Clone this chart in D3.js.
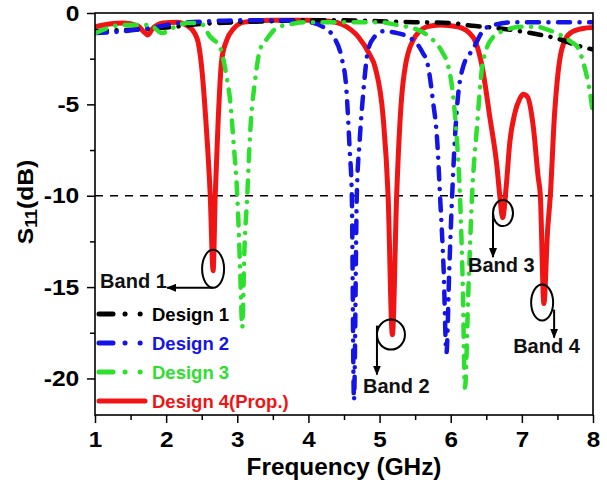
<!DOCTYPE html>
<html><head><meta charset="utf-8">
<script src="https://cdn.jsdelivr.net/npm/d3@7"></script>
<style>
body{margin:0;background:#fff}
text{font-family:"Liberation Sans",Arial,sans-serif;font-weight:bold}
</style>
</head><body>
<svg id="c" width="607" height="483"></svg>
<script>
// ---------- data ----------
const freq1 = [1.0,1.3,1.6,2.0,2.5,3.0,3.5,4.0,4.5,5.0,5.5,6.0,6.3,6.6,6.9,7.2,7.5,7.8,8.0];
const s11_1 = [-1.0,-0.95,-0.9,-0.8,-0.6,-0.5,-0.45,-0.4,-0.4,-0.45,-0.5,-0.55,-0.7,-0.8,-0.95,-1.15,-1.4,-1.8,-2.0];

const freq2 = [1.0,1.4,1.8,2.2,2.6,3.0,3.6,4.0,4.2,4.37,4.47,4.53,4.58,4.61,4.64,4.68,4.72,4.77,4.84,4.93,5.05,5.25,5.4,5.53,5.61,5.67,5.75,5.81,5.85,5.9,5.94,5.98,6.02,6.05,6.09,6.17,6.31,6.5,6.9,7.5,8.0];
const s11_2 = [-1.1,-1.0,-0.8,-0.55,-0.45,-0.4,-0.4,-0.5,-0.75,-1.4,-2.5,-4.0,-7.5,-10,-21.2,-10,-7,-4.4,-2.0,-1.3,-1.0,-1.1,-1.3,-1.7,-2.2,-2.7,-4.8,-7.0,-10,-14,-18.6,-14,-10,-7.5,-5.1,-3.0,-2.0,-0.8,-0.5,-0.5,-0.5];

const freq3 = [1.0,1.4,1.77,1.94,2.1,2.3,2.48,2.62,2.76,2.85,2.9,2.95,3.0,3.04,3.07,3.1,3.14,3.18,3.25,3.32,3.42,3.56,3.7,4.0,4.5,5.0,5.24,5.38,5.52,5.7,5.89,5.95,6.03,6.09,6.13,6.17,6.2,6.25,6.3,6.37,6.44,6.5,6.6,6.8,7.0,7.2,7.35,7.54,7.7,7.78,7.89,7.96,8.0];
const s11_3 = [-1.1,-0.65,-0.65,-1.1,-0.8,-0.55,-0.55,-1.3,-1.9,-3.5,-4.8,-7.2,-10,-14,-17.2,-13,-10,-6.6,-3.7,-2.0,-1.4,-0.8,-0.65,-0.5,-0.5,-0.5,-0.65,-0.75,-0.9,-1.3,-2.2,-2.7,-4.4,-7.1,-10,-15,-20.5,-15,-10,-6.2,-3.0,-2.0,-1.3,-0.9,-0.75,-0.75,-0.9,-1.2,-1.6,-1.85,-3.1,-4.4,-5.5];

const freq4 = [1.0,1.2,1.4,1.6,1.68,1.74,1.8,1.96,2.15,2.3,2.4,2.45,2.5,2.56,2.62,2.66,2.69,2.73,2.78,2.85,2.95,3.1,3.5,4.0,4.3,4.49,4.7,4.85,4.94,5.05,5.12,5.18,5.24,5.33,5.47,5.67,5.85,6.1,6.31,6.44,6.55,6.65,6.69,6.73,6.78,6.83,6.9,6.97,7.02,7.08,7.16,7.23,7.26,7.31,7.36,7.4,7.46,7.5,7.56,7.68,7.86,8.0];
const s11_4 = [-0.75,-0.6,-0.55,-0.7,-1.0,-1.2,-0.9,-0.55,-0.5,-0.7,-1.1,-1.6,-3.0,-6,-10,-14.1,-10,-6,-2.6,-1.5,-0.85,-0.5,-0.4,-0.4,-0.45,-0.65,-1.3,-2.2,-3.0,-5.7,-10,-17.6,-10,-3.8,-1.5,-0.75,-0.65,-0.75,-1.3,-2.9,-5.7,-8.4,-10,-11.2,-9.5,-7.1,-5.5,-4.7,-4.45,-4.6,-6.2,-9.0,-10,-15.9,-12,-10,-5.5,-3.6,-2.0,-1.1,-0.85,-0.8];

const seriesNames = ["Design 1","Design 2","Design 3","Design 4(Prop.)"];
const xTicks = [1,2,3,4,5,6,7,8];
const xMinor = [1.5,2.5,3.5,4.5,5.5,6.5,7.5];
const yTicks = [0,-5,-10,-15,-20];
const yMinor = [-2.5,-7.5,-12.5,-17.5];
const refLevel = -10;

const bandNames = ["Band 1","Band 2","Band 3","Band 4"];
const bandFreq  = [2.66,5.16,6.735,7.285];
const bandS11   = [-14.0,-17.6,-10.95,-15.85];

// ---------- layout / styles ----------
const W=607,H=483, L=95, R=593, T=13, B=415;
const colors = ["#000000","#1414e6","#2ee02e","#f01414"];
const dash = "12,9.5,0.1,9.5";

const svg = d3.select("#c");
const x = d3.scaleLinear().domain([1,8]).range([L,R]);
const y = d3.scaleLinear().domain([-22,0]).range([B,T]);

svg.append("defs").append("clipPath").attr("id","clip")
  .append("rect").attr("x",L).attr("y",T).attr("width",R-L).attr("height",B-T);
const mk = svg.select("defs").append("marker").attr("id","arr")
  .attr("viewBox","0 0 10 8").attr("refX",9).attr("refY",4)
  .attr("markerWidth",10).attr("markerHeight",8).attr("markerUnits","userSpaceOnUse")
  .attr("orient","auto");
mk.append("path").attr("d","M0,0 L10,4 L0,8 Z").attr("fill","#000");

// reference line
svg.append("line").attr("x1",L).attr("x2",R).attr("y1",y(refLevel)).attr("y2",y(refLevel))
  .attr("stroke","#000").attr("stroke-width",1.4).attr("stroke-dasharray","8,7");

// curves
const series = [
  {f:freq1,s:s11_1,c:colors[0],w:4.5,d:dash},
  {f:freq2,s:s11_2,c:colors[1],w:4.5,d:dash},
  {f:freq3,s:s11_3,c:colors[2],w:4.5,d:dash},
  {f:freq4,s:s11_4,c:colors[3],w:5,d:null}
];
const line = d3.line().x(d=>x(d[0])).y(d=>y(d[1])).curve(d3.curveMonotoneX);
const gC = svg.append("g").attr("clip-path","url(#clip)");
[3,0,1,2].forEach(i=>{
  const sr = series[i];
  const p = gC.append("path").datum(sr.f.map((f,k)=>[f,sr.s[k]]))
    .attr("d",line).attr("fill","none").attr("stroke",sr.c).attr("stroke-width",sr.w)
    .attr("stroke-linecap","round").attr("stroke-linejoin","round");
  if(sr.d) p.attr("stroke-dasharray",sr.d);
});

// frame
svg.append("rect").attr("x",L).attr("y",T).attr("width",R-L).attr("height",B-T)
  .attr("fill","none").attr("stroke","#000").attr("stroke-width",1.6);

// axes
const ax = svg.append("g").attr("transform",`translate(0,${B})`)
  .call(d3.axisBottom(x).tickValues(xTicks).tickSize(8).tickPadding(8).tickFormat(d=>String(d)));
svg.append("g").attr("transform",`translate(0,${B})`)
  .call(d3.axisBottom(x).tickValues(xMinor).tickSize(5).tickFormat(""));
const ay = svg.append("g").attr("transform",`translate(${L},0)`)
  .call(d3.axisLeft(y).tickValues(yTicks).tickSize(8).tickPadding(6).tickFormat(d=>String(d)));
svg.append("g").attr("transform",`translate(${L},0)`)
  .call(d3.axisLeft(y).tickValues(yMinor).tickSize(5).tickFormat(""));
svg.selectAll(".domain").remove();
svg.selectAll(".tick line").attr("stroke","#000").attr("stroke-width",1.5);
svg.selectAll(".tick text").attr("font-size",22).attr("fill","#000")
  .attr("font-family","'Liberation Sans',Arial,sans-serif").attr("font-weight","bold");
ax.selectAll(".tick text").attr("transform","scale(1.1,1)");
ay.selectAll(".tick text").attr("transform","scale(1.12,1)");

// axis titles
svg.append("text").attr("transform",`translate(${(L+R)/2},475) scale(1.06,1)`)
  .attr("text-anchor","middle").attr("font-size",23).text("Frequency (GHz)");
const yl = svg.append("text").attr("transform",`translate(33,202) rotate(-90) scale(1.12,1)`)
  .attr("text-anchor","middle").attr("font-size",22);
yl.append("tspan").text("S");
yl.append("tspan").attr("font-size",16).attr("dy",4).text("11");
yl.append("tspan").attr("dy",-4).text("(dB)");

// legend
const lg = svg.append("g");
const legY = [314,343,372,401];
seriesNames.forEach((n,i)=>{
  const sr = series[i];
  const ln = lg.append("line").attr("x1",99).attr("x2",145).attr("y1",legY[i]).attr("y2",legY[i])
    .attr("stroke",sr.c).attr("stroke-width",5).attr("stroke-linecap","round");
  if(sr.d) ln.attr("stroke-dasharray","14,12,0.1,15,0.1,30");
  lg.append("text").attr("x",152).attr("y",legY[i]+7).attr("font-size",18.5)
    .attr("fill",sr.c).text(n);
});

// band annotations
const ann = [
  {rx:11,ry:19,a:[[0,19],[-46,19]],t:[-113,19]},
  {rx:14,ry:15,a:[[-14,-9],[-14,40]],t:[-28,58]},
  {rx:10,ry:13,a:[[-10,0],[-10,44]],t:[-35,59]},
  {rx:11,ry:18,a:[[12,7],[12,35]],t:[-29,50]}
];
bandNames.forEach((n,i)=>{
  const cx = x(bandFreq[i]), cy = y(bandS11[i]), a = ann[i];
  svg.append("ellipse").attr("cx",cx).attr("cy",cy).attr("rx",a.rx).attr("ry",a.ry)
    .attr("fill","none").attr("stroke","#000").attr("stroke-width",2);
  svg.append("line").attr("x1",cx+a.a[0][0]).attr("y1",cy+a.a[0][1])
    .attr("x2",cx+a.a[1][0]).attr("y2",cy+a.a[1][1])
    .attr("stroke","#000").attr("stroke-width",2).attr("marker-end","url(#arr)");
  svg.append("text").attr("x",cx+a.t[0]).attr("y",cy+a.t[1]).attr("font-size",20)
    .attr("fill","#111").text(n);
});
</script>
</body></html>
